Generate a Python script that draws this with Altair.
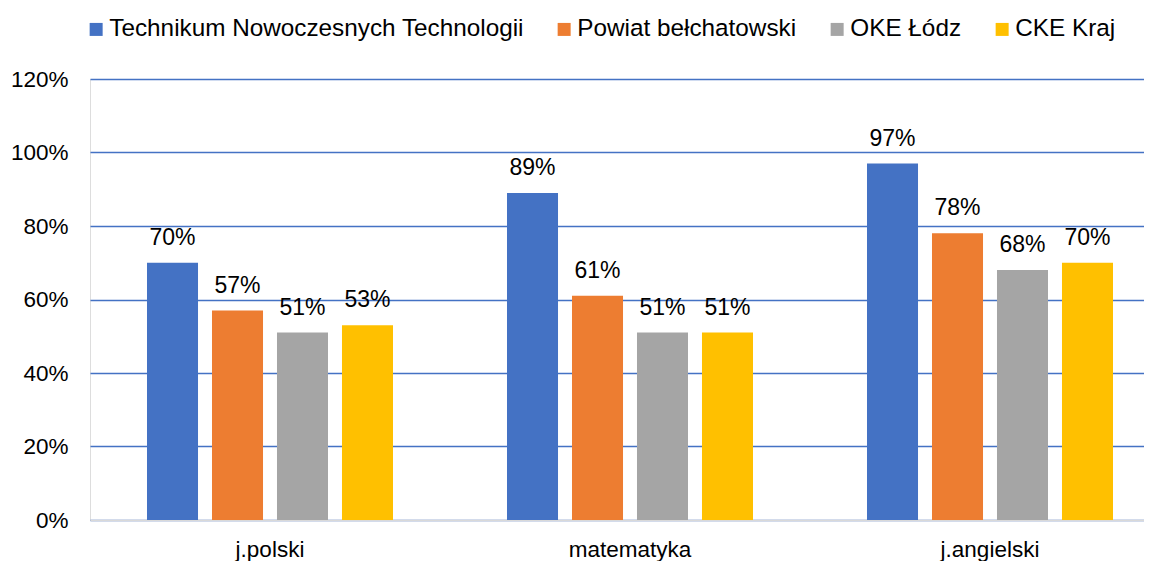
import altair as alt
import pandas as pd

subjects = ["j.polski", "matematyka", "j.angielski"]
series = ["Technikum Nowoczesnych Technologii", "Powiat bełchatowski", "OKE Łódz", "CKE Kraj"]
tnt = [0.70, 0.89, 0.97]
powiat = [0.57, 0.61, 0.78]
oke = [0.51, 0.51, 0.68]
cke = [0.53, 0.51, 0.70]
colors = ["#4472C4", "#ED7D31", "#A5A5A5", "#FFC000"]
y_ticks = [0, 0.2, 0.4, 0.6, 0.8, 1.0, 1.2]

rows = []
for name, vals in zip(series, [tnt, powiat, oke, cke]):
    for subj, v in zip(subjects, vals):
        rows.append({"subject": subj, "series": name, "value": v})
df = pd.DataFrame(rows)

FONT = "Liberation Sans"

x_enc = alt.X("subject:N", sort=subjects, title=None,
              scale=alt.Scale(range=[0, 1080], paddingInner=0, paddingOuter=0),
              axis=alt.Axis(labelAngle=0, ticks=False, domainColor="#D9D9D9", domainWidth=1.5,
                            labelPadding=18, labelFontSize=22.5, labelFont=FONT, labelColor="#000000",
                            grid=False))
xoff_enc = alt.XOffset("series:N", sort=series,
                       scale=alt.Scale(paddingInner=0.215, paddingOuter=0.877))
y_enc = alt.Y("value:Q", title=None,
              scale=alt.Scale(domain=[0, 1.2], nice=False),
              axis=alt.Axis(values=y_ticks, format=".0%", domain=False, ticks=False,
                            gridColor="#4472C4", gridWidth=1.3, labelPadding=22,
                            labelFontSize=22.5, labelFont=FONT, labelColor="#000000"))

bars = alt.Chart(df).mark_bar().encode(
    x=x_enc,
    xOffset=xoff_enc,
    y=y_enc,
    color=alt.Color("series:N", sort=series, scale=alt.Scale(domain=series, range=colors),
                    legend=alt.Legend(title=None, orient="none", legendX=-6, legendY=-62,
                                      direction="horizontal", symbolType="square",
                                      symbolSize=169, symbolStrokeWidth=0,
                                      labelFontSize=24.3, labelFont=FONT, labelColor="#000000",
                                      labelLimit=0,
                                      columnPadding=28, labelOffset=1, padding=0)),
)

labels = alt.Chart(df).mark_text(baseline="alphabetic", align="center", dy=-18,
                                 fontSize=23, font=FONT, color="#000000").encode(
    x=alt.X("subject:N", sort=subjects),
    xOffset=alt.XOffset("series:N", sort=series),
    y=alt.Y("value:Q"),
    text=alt.Text("value:Q", format=".0%"),
)

chart = alt.layer(bars, labels).properties(
    width=1054, height=441,
    autosize=alt.AutoSizeParams(type="none"),
    padding={"left": 82, "top": 71, "right": 0, "bottom": 41},
).configure_view(stroke=None).configure(background="white")

chart.save("out.html", embed_options={"renderer": "svg", "actions": False})
